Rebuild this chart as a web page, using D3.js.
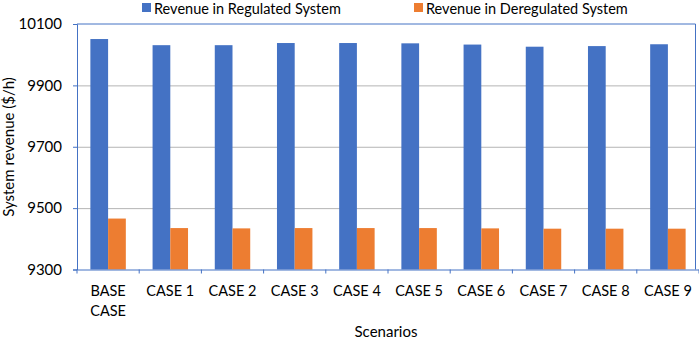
<!DOCTYPE html>
<html><head><meta charset="utf-8">
<script src="https://cdn.jsdelivr.net/npm/d3@7"></script>
<style>body{margin:0;background:#fff}svg{display:block}text{font-family:Lato,"Open Sans",sans-serif;fill:#000}</style>
</head><body><svg id="c" width="699" height="341"></svg>
<script>
const categories = ["BASE CASE","CASE 1","CASE 2","CASE 3","CASE 4","CASE 5","CASE 6","CASE 7","CASE 8","CASE 9"];
const seriesNames = ["Revenue in Regulated System","Revenue in Deregulated System"];
const regulated = [10051,10031,10031,10038,10038,10037,10033,10026,10028,10034];
const deregulated = [9466,9435,9434,9435,9435,9435,9434,9433,9433,9433];
const yTicks = [9300,9500,9700,9900,10100];
const colors = ["#4472c4","#ed7d31"];

const svg = d3.select("#c");
const L=77, R=699, T=24, B=269.5;
const x = d3.scaleBand().domain(categories).range([L,R]).paddingInner(0.43).paddingOuter(0.215);
const xb = d3.scaleBand().domain(categories).range([L,R]);
const y = d3.scaleLinear().domain([9300,10100]).range([B,T]);
const xs = d3.scaleBand().domain([0,1]).range([0,x.bandwidth()]);

// gridlines
svg.append("g").selectAll("line").data(yTicks.slice(1,4)).join("line")
  .attr("x1",L).attr("x2",695).attr("y1",d=>y(d)+0.5).attr("y2",d=>y(d)+0.5)
  .attr("stroke","#b4b4b4").attr("stroke-width",1);
// top & right border
svg.append("line").attr("x1",L).attr("x2",695.5).attr("y1",y(10100)).attr("y2",y(10100)).attr("stroke","#4472c4");
svg.append("line").attr("x1",695.5).attr("x2",695.5).attr("y1",y(10100)).attr("y2",B).attr("stroke","#4472c4");

// bars
const data = categories.map((c,i)=>({c,v:[regulated[i],deregulated[i]]}));
const g = svg.append("g").selectAll("g").data(data).join("g").attr("transform",d=>`translate(${x(d.c)},0)`);
g.selectAll("rect").data(d=>d.v.map((v,k)=>({v,k}))).join("rect")
  .attr("x",d=>xs(d.k)).attr("width",xs.bandwidth())
  .attr("y",d=>y(d.v)).attr("height",d=>B-y(d.v)).attr("fill",d=>colors[d.k]);

// y axis
const ya = svg.append("g").attr("transform",`translate(${L},0)`)
  .call(d3.axisLeft(y).tickValues(yTicks).tickSize(4).tickPadding(11).tickFormat(d3.format("d")));
ya.select(".domain").attr("stroke","#4472c4");
ya.selectAll(".tick line").attr("stroke","#4472c4");
ya.selectAll("text").style("font-size","15px").style("font-family","Lato,sans-serif");

// x axis
const xa = svg.append("g").attr("transform",`translate(0,${B})`)
  .call(d3.axisBottom(xb).tickSize(0).tickFormat(""));
xa.select(".domain").attr("stroke","#4472c4");
xa.selectAll(".tk").data(d3.range(categories.length+1)).join("line").attr("class","tk")
  .attr("x1",i=>L+i*xb.step()).attr("x2",i=>L+i*xb.step()).attr("y1",0).attr("y2",4).attr("stroke","#4472c4");
const lab = svg.append("g").selectAll("text").data(categories).join("text")
  .attr("x",d=>xb(d)+xb.bandwidth()/2).attr("y",296).attr("text-anchor","middle").style("font-size","14.5px");
lab.each(function(d){
  const t=d3.select(this);
  if(d==="BASE CASE"){
    t.append("tspan").attr("x",xb(d)+xb.bandwidth()/2).text("BASE");
    t.append("tspan").attr("x",xb(d)+xb.bandwidth()/2).attr("dy",20).text("CASE");
  } else t.text(d);
});

// axis titles
svg.append("text").attr("x",(L+R)/2-2).attr("y",337).attr("text-anchor","middle").style("font-size","15px").text("Scenarios");
svg.append("text").attr("transform","translate(14,147) rotate(-90)").attr("text-anchor","middle").style("font-size","15px").text("System revenue ($/h)");

// legend
const leg = [{x:142,name:seriesNames[0],c:colors[0]},{x:414,name:seriesNames[1],c:colors[1]}];
const lg = svg.append("g").selectAll("g").data(leg).join("g");
lg.append("rect").attr("x",d=>d.x).attr("y",3).attr("width",9).attr("height",9).attr("fill",d=>d.c);
lg.append("text").attr("x",d=>d.x+12).attr("y",14).style("font-size","14.5px").text(d=>d.name);
</script></body></html>
